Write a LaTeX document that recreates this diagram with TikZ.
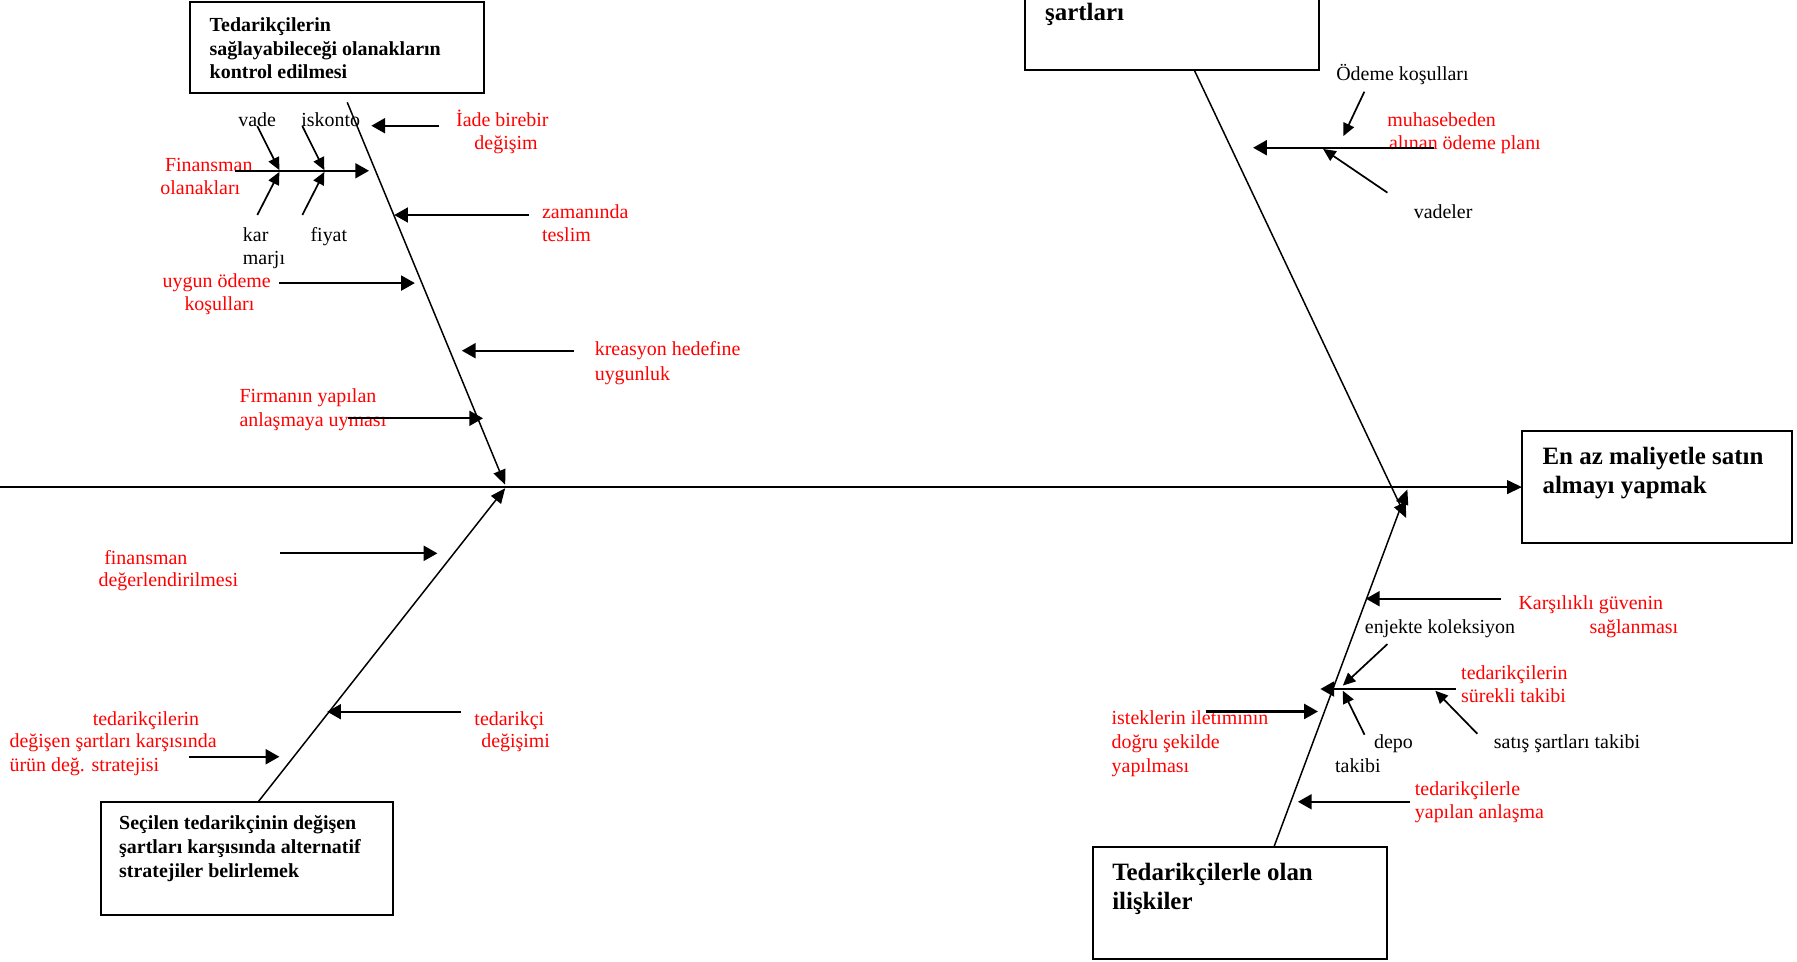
\documentclass[tikz,border=0pt]{standalone}
\usepackage{fontspec}
\setmainfont{Liberation Serif}
\usetikzlibrary{arrows.meta}
\definecolor{labelred}{RGB}{255,0,0}
\begin{document}
\begin{tikzpicture}[x=1pt,y=-1pt,
  every node/.style={inner sep=0pt, outer sep=0pt},
  lbl/.style={anchor=base west, font=\fontsize{17.4pt}{20.5pt}\selectfont},
  cause/.style={lbl, text=labelred},
  item/.style={lbl, text=black},
  boxtext/.style={anchor=base west, font=\fontsize{17.4pt}{20.5pt}\selectfont\bfseries},
  bigtext/.style={anchor=base west, font=\fontsize{21.75pt}{26pt}\selectfont\bfseries},
  frame/.style={draw, line width=1.7pt, anchor=north west},
  bone/.style={line width=1.3pt, -{Triangle[length=13pt,width=11pt]}},
  spinearrow/.style={line width=1.6pt, -{Triangle[length=13pt,width=12pt]}},
  causearrow/.style={line width=2pt, -{Triangle[length=12pt,width=13pt]}},
  subarrow/.style={line width=1.5pt, -{Triangle[length=11pt,width=10pt]}},
]
\clip (0,0) rectangle (1568,839);
\fill[white] (0,0) rectangle (1568,839);

% ---------- category boxes ----------
\node[frame, minimum width=256pt, minimum height=79pt] (supply) at (166,2) {};
\node[frame, minimum width=257pt, minimum height=101pt] (terms) at (894,-40) {};
\node[frame, minimum width=236pt, minimum height=98pt] (goal) at (1328,376) {};
\node[frame, minimum width=255pt, minimum height=98pt] (alter) at (88,700) {};
\node[frame, minimum width=256pt, minimum height=98pt] (relat) at (954,739) {};

\node[boxtext] (supplyA) at (183,27.5) {Tedarikçilerin};
\node[boxtext] (supplyB) at (183,48) {sağlayabileceği olanakların};
\node[boxtext] (supplyC) at (183,68.5) {kontrol edilmesi};

\node[bigtext] (termsA) at (912,18) {şartları};

\node[bigtext] (goalA) at (1346,405) {En az maliyetle satın};
\node[bigtext] (goalB) at (1346,431) {almayı yapmak};

\node[boxtext] (alterA) at (104,724) {Seçilen tedarikçinin değişen};
\node[boxtext] (alterB) at (104,744.5) {şartları karşısında alternatif};
\node[boxtext] (alterC) at (104,765.5) {stratejiler belirlemek};

\node[bigtext] (relatA) at (970.5,768) {Tedarikçilerle olan};
\node[bigtext] (relatB) at (970.5,794) {ilişkiler};

% ---------- spine and main bones ----------
\coordinate (tail) at (0,425);
\draw[spinearrow] (tail) -- (goal.west);

\coordinate (tlTop) at (303,89.3);
\coordinate (tlTip) at (440.8,423);
\coordinate (blTop) at (225.4,699.5);
\coordinate (blTip) at (440.8,426);
\coordinate (trTop) at (1042,61);
\coordinate (trTip) at (1227,452);
\coordinate (brTop) at (1111.7,738.7);
\coordinate (brTip) at (1228,427);
\draw[bone] (tlTop) -- (tlTip);
\draw[bone] (blTop) -- (blTip);
\draw[bone] (trTop) -- (trTip);
\draw[bone] (brTop) -- (brTip);

% ---------- upper left branch ----------
\node[item] (vade) at (208,110) {vade};
\node[item] (iskonto) at (263,110) {iskonto};
\node[cause] (iadeA) at (398,110) {İade birebir};
\node[cause] (iadeB) at (414,130.5) {değişim};
\node[cause] (finA) at (144,150) {Finansman};
\node[cause] (finB) at (140,169.5) {olanakları};
\node[cause] (zamA) at (473,190.5) {zamanında};
\node[cause] (zamB) at (473,210.5) {teslim};
\node[item] (karA) at (212,210.5) {kar};
\node[item] (karB) at (212,230.5) {marjı};
\node[item] (fiyat) at (271,210.5) {fiyat};
\node[cause] (uygA) at (142,250.5) {uygun ödeme};
\node[cause] (uygB) at (161,270.5) {koşulları};
\node[cause] (kreA) at (519,310.5) {kreasyon hedefine};
\node[cause] (kreB) at (519,332) {uygunluk};
\node[cause] (firA) at (209,351.5) {Firmanın yapılan};
\node[cause] (firB) at (209,372) {anlaşmaya uyması};

\coordinate (iadeS) at (383.4,109.7);  \coordinate (iadeT) at (324,109.7);
\coordinate (finS) at (205,149);       \coordinate (finT) at (322,149);
\coordinate (vadeS) at (224.5,110);    \coordinate (vadeT) at (243.8,148.5);
\coordinate (karS) at (224.5,187.6);   \coordinate (karT) at (243.8,150);
\coordinate (iskS) at (263.8,110);     \coordinate (iskT) at (283,148.5);
\coordinate (fiyS) at (263.8,187.6);   \coordinate (fiyT) at (283,150);
\coordinate (zamS) at (461.8,187.6);   \coordinate (zamT) at (344,187.6);
\coordinate (uygS) at (243.8,247);     \coordinate (uygT) at (362,247);
\coordinate (kreS) at (501,306);       \coordinate (kreT) at (403,306);
\coordinate (firS) at (304,365);       \coordinate (firT) at (421.5,365);

\draw[causearrow] (iadeS) -- (iadeT);
\draw[causearrow] (finS) -- (finT);
\draw[subarrow] (vadeS) -- (vadeT);
\draw[subarrow] (karS) -- (karT);
\draw[subarrow] (iskS) -- (iskT);
\draw[subarrow] (fiyS) -- (fiyT);
\draw[causearrow] (zamS) -- (zamT);
\draw[causearrow] (uygS) -- (uygT);
\draw[causearrow] (kreS) -- (kreT);
\draw[causearrow] (firS) -- (firT);

% ---------- lower left branch ----------
\node[cause] (fdA) at (91,492.5) {finansman};
\node[cause] (fdB) at (86,511.5) {değerlendirilmesi};
\node[cause] (urA) at (81,633) {tedarikçilerin};
\node[cause] (urB) at (8.4,652.5) {değişen şartları karşısında};
\node[cause] (urC) at (8.4,673) {ürün değ. stratejisi};
\node[cause] (tdA) at (414,633) {tedarikçi};
\node[cause] (tdB) at (420,652.5) {değişimi};

\coordinate (fdS) at (244.5,482.8);   \coordinate (fdT) at (381.7,482.8);
\coordinate (tdS) at (402.4,621);     \coordinate (tdT) at (285.5,621);
\coordinate (urS) at (165.3,660.3);   \coordinate (urT) at (243.8,660.3);
\draw[causearrow] (fdS) -- (fdT);
\draw[causearrow] (tdS) -- (tdT);
\draw[causearrow] (urS) -- (urT);

% ---------- upper right branch ----------
\node[item] (odeme) at (1166,70) {Ödeme koşulları};
\node[cause] (muhA) at (1210.5,110) {muhasebeden};
\node[cause] (muhB) at (1212,130.5) {alınan ödeme planı};
\node[item] (vadeler) at (1233.6,190.5) {vadeler};

\coordinate (odS) at (1190.5,80);      \coordinate (odT) at (1172.2,118.7);
\coordinate (muhS) at (1251.6,128.9);  \coordinate (muhT) at (1093.4,128.9);
\coordinate (vdS) at (1210.6,168.1);   \coordinate (vdT) at (1154.5,130);
\draw[subarrow] (odS) -- (odT);
\draw[causearrow] (muhS) -- (muhT);
\draw[subarrow] (vdS) -- (vdT);

% ---------- lower right branch ----------
\node[cause] (kgA) at (1325,532) {Karşılıklı güvenin};
\node[cause] (kgB) at (1387,552.5) {sağlanması};
\node[item] (enj) at (1191,552.5) {enjekte koleksiyon};
\node[cause] (stA) at (1275,593) {tedarikçilerin};
\node[cause] (stB) at (1275,612.7) {sürekli takibi};
\node[item] (depoA) at (1199,653) {depo};
\node[item] (depoB) at (1165,674) {takibi};
\node[item] (satis) at (1303.5,653) {satış şartları takibi};
\node[cause] (isA) at (970,632.3) {isteklerin iletiminin};
\node[cause] (isB) at (970,652.7) {doğru şekilde};
\node[cause] (isC) at (970,673.8) {yapılması};
\node[cause] (yaA) at (1234.6,694) {tedarikçilerle};
\node[cause] (yaB) at (1234.6,714) {yapılan anlaşma};

\coordinate (kgS) at (1309.5,522.4);   \coordinate (kgT) at (1191.8,522.4);
\coordinate (enS) at (1210.6,562);     \coordinate (enT) at (1171.7,598.2);
\coordinate (stS) at (1270.2,601.2);   \coordinate (stT) at (1152.1,601.2);
\coordinate (dpS) at (1190.6,641);     \coordinate (dpT) at (1171.7,602.7);
\coordinate (saS) at (1289.1,640.3);   \coordinate (saT) at (1252.4,602.7);
\coordinate (isS) at (1051.9,620.8);   \coordinate (isT) at (1150,620.8);
\coordinate (yaS) at (1230.2,699.6);   \coordinate (yaT) at (1132.5,699.6);
\draw[causearrow] (kgS) -- (kgT);
\draw[subarrow] (enS) -- (enT);
\draw[causearrow] (stS) -- (stT);
\draw[subarrow] (dpS) -- (dpT);
\draw[subarrow] (saS) -- (saT);
\draw[causearrow] (isS) -- (isT);
\draw[causearrow] (yaS) -- (yaT);
\end{tikzpicture}
\end{document}
